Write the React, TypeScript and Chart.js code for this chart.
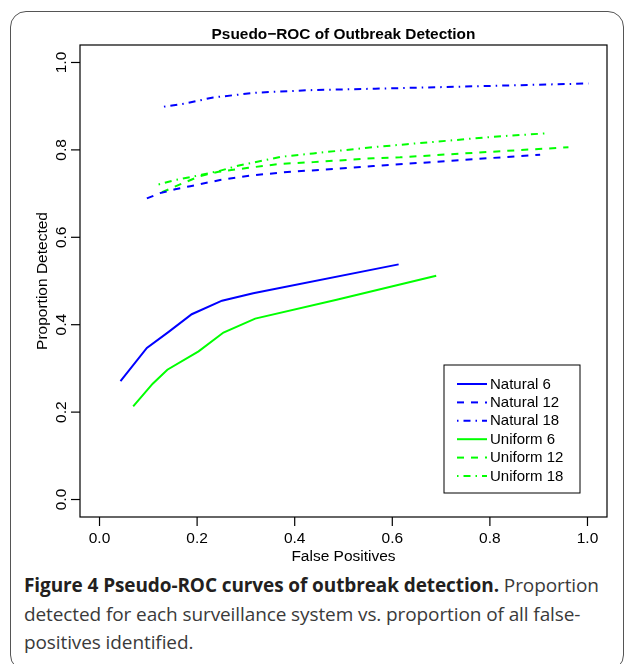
import React, { useEffect, useRef } from "react";
import { Chart, registerables } from "chart.js";
Chart.register(...registerables);

const natural6X = [0.043, 0.097, 0.141, 0.189, 0.251, 0.315, 0.613];
const natural6Y = [0.271, 0.347, 0.383, 0.424, 0.455, 0.472, 0.538];
const natural12X = [0.097, 0.124, 0.155, 0.186, 0.247, 0.308, 0.370, 0.561, 0.903];
const natural12Y = [0.689, 0.701, 0.710, 0.717, 0.731, 0.741, 0.748, 0.763, 0.789];
const natural18X = [0.132, 0.175, 0.233, 0.322, 0.438, 0.565, 0.787, 1.002];
const natural18Y = [0.899, 0.906, 0.920, 0.931, 0.937, 0.940, 0.946, 0.952];
const uniform6X = [0.069, 0.109, 0.139, 0.203, 0.254, 0.319, 0.486, 0.690];
const uniform6Y = [0.213, 0.265, 0.297, 0.339, 0.382, 0.414, 0.457, 0.512];
const uniform12X = [0.128, 0.165, 0.206, 0.244, 0.305, 0.370, 0.438, 0.561, 0.616, 0.807, 0.961];
const uniform12Y = [0.703, 0.721, 0.740, 0.750, 0.759, 0.768, 0.772, 0.781, 0.783, 0.796, 0.806];
const uniform18X = [0.121, 0.151, 0.182, 0.209, 0.246, 0.288, 0.333, 0.370, 0.438, 0.568, 0.630, 0.807, 0.917];
const uniform18Y = [0.721, 0.730, 0.737, 0.743, 0.752, 0.765, 0.775, 0.784, 0.792, 0.807, 0.813, 0.830, 0.838];

const seriesNames = ["Natural 6", "Natural 12", "Natural 18", "Uniform 6", "Uniform 12", "Uniform 18"];
const xTicks = [0, 0.2, 0.4, 0.6, 0.8, 1.0];
const yTicks = [0, 0.2, 0.4, 0.6, 0.8, 1.0];
const tickLabels = ["0.0", "0.2", "0.4", "0.6", "0.8", "1.0"];
const chartTitle = "Psuedo\u2212ROC of Outbreak Detection";
const xTitle = "False Positives";
const yTitle = "Proportion Detected";

const BLUE = "#0000ff";
const GREEN = "#00ff00";
const SOLID: number[] = [];
const DASH = [7, 7];
const DASHDOT = [1.5, 5, 7, 5];

const FONT = "'Liberation Sans', Arial, Helvetica, sans-serif";

const pts = (xs: number[], ys: number[]) => xs.map((x, i) => ({ x, y: ys[i] }));

const styles = [
  { color: BLUE, dash: SOLID },
  { color: BLUE, dash: DASH },
  { color: BLUE, dash: DASHDOT },
  { color: GREEN, dash: SOLID },
  { color: GREEN, dash: DASH },
  { color: GREEN, dash: DASHDOT },
];

const rPlot = {
  id: "rPlot",
  afterDraw(chart: any) {
    const { ctx, chartArea } = chart;
    const xs = chart.scales.x;
    const ys = chart.scales.y;
    const { left, right, top, bottom } = chartArea;
    ctx.save();
    ctx.strokeStyle = "#000";
    ctx.lineWidth = 1.2;
    ctx.setLineDash([]);
    ctx.strokeRect(left, top, right - left, bottom - top);
    ctx.fillStyle = "#000";
    ctx.font = `15.5px ${FONT}`;
    ctx.textAlign = "center";
    ctx.textBaseline = "middle";
    xTicks.forEach((v, i) => {
      const px = xs.getPixelForValue(v);
      ctx.beginPath();
      ctx.moveTo(px, bottom);
      ctx.lineTo(px, bottom + 9);
      ctx.stroke();
      ctx.fillText(tickLabels[i], px, bottom + 22);
    });
    yTicks.forEach((v, i) => {
      const py = ys.getPixelForValue(v);
      ctx.beginPath();
      ctx.moveTo(left, py);
      ctx.lineTo(left - 9, py);
      ctx.stroke();
      ctx.save();
      ctx.translate(left - 18, py);
      ctx.rotate(-Math.PI / 2);
      ctx.fillText(tickLabels[i], 0, 0);
      ctx.restore();
    });
    ctx.fillText(xTitle, (left + right) / 2, bottom + 40);
    ctx.save();
    ctx.translate(left - 37, (top + bottom) / 2);
    ctx.rotate(-Math.PI / 2);
    ctx.fillText(yTitle, 0, 0);
    ctx.restore();
    ctx.font = `bold 15.4px ${FONT}`;
    ctx.fillText(chartTitle, (left + right) / 2, top - 10);
    const lx = 444, ly = 365, lw = 136, lh = 128;
    ctx.lineWidth = 1;
    ctx.strokeStyle = "#000";
    ctx.strokeRect(lx, ly, lw, lh);
    ctx.font = `15px ${FONT}`;
    ctx.textAlign = "left";
    seriesNames.forEach((name, i) => {
      const yy = ly + 19 + i * 18.4;
      ctx.strokeStyle = styles[i].color;
      ctx.lineWidth = 2;
      ctx.setLineDash(styles[i].dash);
      ctx.beginPath();
      ctx.moveTo(457, yy);
      ctx.lineTo(487, yy);
      ctx.stroke();
      ctx.setLineDash([]);
      ctx.fillStyle = "#000";
      ctx.fillText(name, 490, yy + 0.5);
    });
    ctx.restore();
  },
};

export default function App() {
  const ref = useRef<HTMLCanvasElement | null>(null);
  useEffect(() => {
    if (!ref.current) return;
    const data = [
      pts(natural6X, natural6Y),
      pts(natural12X, natural12Y),
      pts(natural18X, natural18Y),
      pts(uniform6X, uniform6Y),
      pts(uniform12X, uniform12Y),
      pts(uniform18X, uniform18Y),
    ];
    const chart = new Chart(ref.current, {
      type: "scatter",
      data: {
        datasets: data.map((d, i) => ({
          label: seriesNames[i],
          data: d,
          showLine: true,
          borderColor: styles[i].color,
          backgroundColor: styles[i].color,
          borderDash: styles[i].dash,
          borderWidth: 2,
          pointRadius: 0,
          tension: 0,
        })),
      },
      options: {
        animation: false,
        responsive: false,
        maintainAspectRatio: false,
        layout: { padding: { left: 80, top: 45, right: 20, bottom: 53 } },
        plugins: { legend: { display: false }, tooltip: { enabled: false }, title: { display: false } },
        scales: {
          x: { type: "linear", min: -0.04, max: 1.04, display: false },
          y: { type: "linear", min: -0.04, max: 1.04, display: false },
        },
      },
      plugins: [rPlot],
    });
    return () => chart.destroy();
  }, []);

  return (
    <div style={{ position: "absolute", left: 0, top: 0, width: 627, height: 664, background: "#fff", overflow: "hidden" }}>
      <div
        style={{
          position: "absolute",
          left: 10,
          top: 11,
          width: 614,
          height: 660,
          border: "1.5px solid #555",
          borderRadius: 16,
          boxSizing: "border-box",
        }}
      />
      <canvas ref={ref} width={627} height={570} style={{ position: "absolute", left: 0, top: 0, width: 627, height: 570 }} />
      <div
        style={{
          position: "absolute",
          left: 24,
          top: 571,
          width: 600,
          fontFamily: "'Open Sans', 'Noto Sans', sans-serif",
          fontSize: 19,
          letterSpacing: -0.1,
          lineHeight: "28.5px",
          color: "#3a3a3a",
          whiteSpace: "nowrap",
        }}
      >
        <span style={{ fontWeight: 700, color: "#231f20" }}>Figure 4 Pseudo-ROC curves of outbreak detection.</span> Proportion
        <br />
        detected for each surveillance system vs. proportion of all false-
        <br />
        positives identified.
      </div>
    </div>
  );
}
